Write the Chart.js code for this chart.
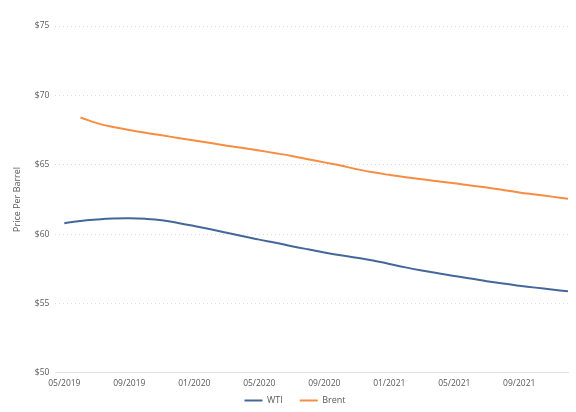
<!DOCTYPE html>
<html>
<head>
<meta charset="utf-8">
<script src="https://cdn.jsdelivr.net/npm/chart.js@4.4.1/dist/chart.umd.min.js"></script>
<style>
  html, body { margin: 0; padding: 0; background: #fff; }
  #wrap { width: 576px; height: 412px; }
</style>
</head>
<body>
<div id="wrap"><canvas id="grafica"></canvas></div>
<script>
// meses desde 05/2019 hasta 12/2021
var meses = [
  "05/2019","06/2019","07/2019","08/2019","09/2019","10/2019","11/2019","12/2019",
  "01/2020","02/2020","03/2020","04/2020","05/2020","06/2020","07/2020","08/2020",
  "09/2020","10/2020","11/2020","12/2020","01/2021","02/2021","03/2021","04/2021",
  "05/2021","06/2021","07/2021","08/2021","09/2021","10/2021","11/2021","12/2021"
];

var wti = [
  60.78, 60.95, 61.05, 61.12, 61.14, 61.10, 61.00, 60.80,
  60.58, 60.35, 60.10, 59.85, 59.60, 59.38, 59.13, 58.90,
  58.68, 58.48, 58.30, 58.10, 57.85, 57.60, 57.38, 57.18,
  56.98, 56.80, 56.60, 56.43, 56.28, 56.14, 56.00, 55.87
];

var brent = [
  null, 68.40, 68.00, 67.72, 67.50, 67.30, 67.12, 66.93,
  66.74, 66.56, 66.37, 66.20, 66.02, 65.83, 65.63, 65.40,
  65.17, 64.94, 64.68, 64.45, 64.27, 64.10, 63.95, 63.80,
  63.67, 63.50, 63.35, 63.18, 63.00, 62.85, 62.70, 62.55
];

var ticksX = [0, 4, 8, 12, 16, 20, 24, 28];
var ticksY = [50, 55, 60, 65, 70, 75];

function puntos(serie){
  var res = [];
  serie.forEach(function(v, i){
    if (v !== null) res.push({x: i, y: v});
  });
  return res;
}

var fuente = "'Open Sans', sans-serif";
Chart.defaults.font.family = fuente;
Chart.defaults.color = "#595959";

// la leyenda usa padding grande para separar los items, pero ocupa menos alto
var ajusteLeyenda = {
  id: "ajusteLeyenda",
  beforeInit: function(chart){
    var leyenda = chart.legend;
    if (!leyenda) return;
    var fitOriginal = leyenda.fit;
    leyenda.fit = function(){
      fitOriginal.call(this);
      this.height = 17;
    };
  },
  afterLayout: function(chart){
    var leyenda = chart.legend;
    if (!leyenda) return;
    // se sube solo el borde de arriba para que no se recorte
    leyenda.top -= 16;
    leyenda.left += 7;
    leyenda.right += 7;
  }
};

var datos = {
  type: "line",
  data: {
    datasets: [{
      label: "WTI",
      data: puntos(wti),
      borderColor: "#44679b",
      backgroundColor: "#44679b",
      borderWidth: 2,
      pointRadius: 0,
      tension: 0.4,
      fill: false
    }, {
      label: "Brent",
      data: puntos(brent),
      borderColor: "#f68d42",
      backgroundColor: "#f68d42",
      borderWidth: 2,
      pointRadius: 0,
      tension: 0.4,
      fill: false
    }]
  },
  options: {
    responsive: true,
    maintainAspectRatio: false,
    animation: false,
    layout: { padding: { left: 8, right: 8, top: 26, bottom: 0 } },
    plugins: {
      legend: {
        position: "bottom",
        labels: {
          usePointStyle: true,
          pointStyle: "line",
          pointStyleWidth: 18,
          boxHeight: 2,
          padding: 17,
          font: { size: 9 },
          color: "#595959"
        }
      },
      tooltip: { enabled: false }
    },
    scales: {
      x: {
        type: "linear",
        min: -0.55,
        max: 31,
        afterBuildTicks: function(scale){
          scale.ticks = ticksX.map(function(v){ return {value: v}; });
        },
        ticks: {
          autoSkip: false,
          maxRotation: 0,
          padding: 6,
          font: { size: 8.5 },
          color: "#595959",
          callback: function(v){ return meses[v]; }
        },
        grid: { display: false, drawTicks: false },
        border: { display: true, color: "#e3e3e3", width: 1 }
      },
      y: {
        min: 50,
        max: 75,
        afterBuildTicks: function(scale){
          scale.ticks = ticksY.map(function(v){ return {value: v}; });
        },
        title: {
          display: true,
          text: "Price Per Barrel",
          font: { size: 9 },
          color: "#595959",
          padding: { bottom: 6 }
        },
        ticks: {
          padding: 6,
          font: { size: 8.5 },
          color: "#595959",
          callback: function(v){ return "$" + v; }
        },
        grid: {
          color: "#d9d9d9",
          lineWidth: 1,
          drawTicks: false
        },
        border: { display: false, dash: [1, 3] }
      }
    }
  },
  plugins: [ajusteLeyenda]
};

var contenedor = document.getElementById("grafica").getContext("2d");
var miGrafica = new Chart(contenedor, datos);
</script>
</body>
</html>
